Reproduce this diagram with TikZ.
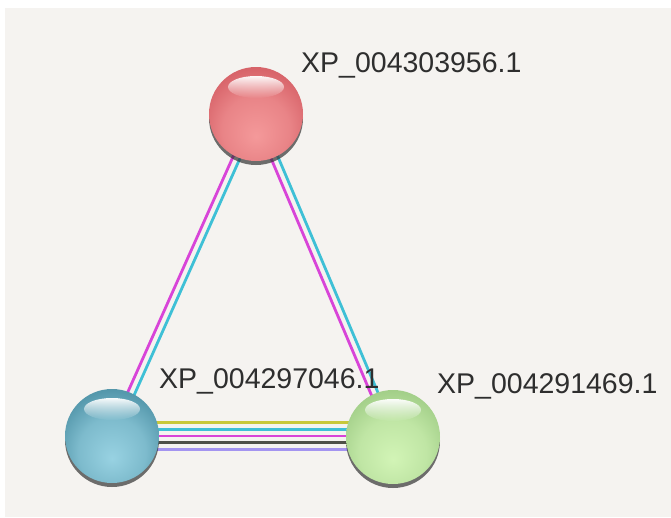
\documentclass[tikz,border=0pt]{standalone}
\usepackage{fontspec}
\setmainfont{Liberation Sans}
\usetikzlibrary{calc,shadows,fadings}
\pgfdeclarelayer{bg}\pgfdeclarelayer{edges}\pgfsetlayers{bg,edges,main}
\definecolor{panel}{HTML}{F5F3F0}
\definecolor{labelc}{HTML}{2E2E2E}
\definecolor{reddark}{HTML}{A23C44}
\definecolor{redmid}{HTML}{D8646A}
\definecolor{redlight}{HTML}{F4999A}
\definecolor{tealdark}{HTML}{275E6E}
\definecolor{tealmid}{HTML}{5598AC}
\definecolor{teallight}{HTML}{98D2E2}
\definecolor{grndark}{HTML}{6A9852}
\definecolor{grnmid}{HTML}{A4D08A}
\definecolor{grnlight}{HTML}{D2F4B6}
\definecolor{emag}{HTML}{D844D8}
\definecolor{ecyan}{HTML}{3EC0D6}
\definecolor{eyel}{HTML}{C8C83A}
\definecolor{egray}{HTML}{4E5048}
\definecolor{elav}{HTML}{A494F0}
\pgfdeclareradialshading{shred}{\pgfpoint{0bp}{-12bp}}{color(0bp)=(redlight); color(18bp)=(redlight!60!redmid); color(30bp)=(redmid); color(40bp)=(redmid!70!reddark); color(48bp)=(reddark); color(60bp)=(reddark!75!black)}
\pgfdeclareradialshading{shteal}{\pgfpoint{0bp}{-12bp}}{color(0bp)=(teallight); color(18bp)=(teallight!60!tealmid); color(30bp)=(tealmid); color(40bp)=(tealmid!70!tealdark); color(48bp)=(tealdark); color(60bp)=(tealdark!75!black)}
\pgfdeclareradialshading{shgrn}{\pgfpoint{0bp}{-12bp}}{color(0bp)=(grnlight); color(18bp)=(grnlight!60!grnmid); color(30bp)=(grnmid); color(40bp)=(grnmid!70!grndark); color(48bp)=(grndark); color(60bp)=(grndark!75!black)}
\tikzfading[name=hlfade, top color=transparent!5, bottom color=transparent!100]
\tikzset{
  ball/.style={circle, minimum size=94pt, inner sep=0pt, shade, shading=#1,
    drop shadow={shadow xshift=0pt, shadow yshift=-4pt, opacity=0.7, fill=black!80}},
  hl/.style={fill=white, path fading=hlfade},
  lbl/.style={anchor=base west, inner sep=0pt, text=labelc, font=\fontsize{28.5}{30}\selectfont},
  edge/.style={line width=2.8pt, draw=#1},
}
\begin{document}
\begin{tikzpicture}[x=1pt,y=-1pt]
\useasboundingbox (0,0) rectangle (671,517);
\begin{pgfonlayer}{bg}
\fill[white] (0,0) rectangle (671,517);
\fill[panel] (5,8) rectangle (671,517);
\end{pgfonlayer}
% spheres
\node[ball=shred] (r) at (256,114) {};
\node[ball=shteal] (t) at (112,436) {};
\node[ball=shgrn] (g) at (393,437) {};
% highlights
\fill[hl] ($(r)+(0,-27)$) ellipse [x radius=28, y radius=11];
\fill[hl] ($(t)+(0,-27)$) ellipse [x radius=28, y radius=11];
\fill[hl] ($(g)+(0,-27)$) ellipse [x radius=28, y radius=11];
% labels
\node[lbl] (lr) at (301,72) {XP\_004303956.1};
\node[lbl] (lt) at (159,388) {XP\_004297046.1};
\node[lbl] (lg) at (437,393) {XP\_004291469.1};
% edges
\begin{pgfonlayer}{edges}
\draw[edge=emag] ($(r)!3.5pt!-90:(t)$) -- ($(t)!3.5pt!90:(r)$);
\draw[edge=ecyan] ($(r)!3.5pt!90:(t)$) -- ($(t)!3.5pt!-90:(r)$);
\draw[edge=emag] ($(r)!3.5pt!-90:(g)$) -- ($(g)!3.5pt!90:(r)$);
\draw[edge=ecyan] ($(r)!3.5pt!90:(g)$) -- ($(g)!3.5pt!-90:(r)$);
\draw[edge=eyel] ($(t)+(0,-13.5)$) -- ($(g)+(0,-14.5)$);
\draw[edge=ecyan] ($(t)+(0,-6.75)$) -- ($(g)+(0,-7.75)$);
\draw[edge=emag] ($(t)+(0,0)$) -- ($(g)+(0,-1)$);
\draw[edge=egray] ($(t)+(0,6.75)$) -- ($(g)+(0,5.75)$);
\draw[edge=elav] ($(t)+(0,13.5)$) -- ($(g)+(0,12.5)$);
\end{pgfonlayer}
\end{tikzpicture}
\end{document}
